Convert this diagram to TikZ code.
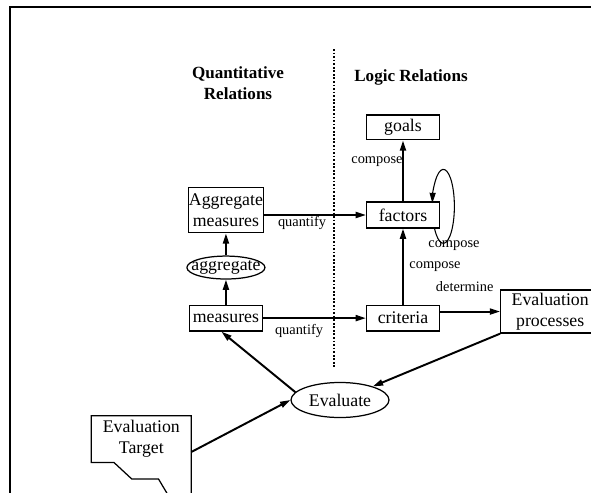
\documentclass[tikz,border=0pt]{standalone}
\usepackage{fontspec}
\setmainfont{Liberation Serif}
\usepackage{tikz}
\usetikzlibrary{
  shapes.geometric, arrows.meta, positioning
}
\newcommand{\boxfont}{\fontsize{10}{11.8}\selectfont}
\newcommand{\lblfont}{\fontsize{8.1}{9.7}\selectfont}
\newcommand{\hdfont}{\fontsize{9.6}{11.8}\selectfont\bfseries}
\tikzset{
  basebox/.style={
    rectangle, draw=black, line width=0.7pt, fill=white, align=center, font=\boxfont, inner sep=1pt
  },
  stepbox/.style={basebox, minimum width=41pt, minimum height=14.6pt},
  ovalbox/.style={ellipse, draw=black, line width=0.7pt, fill=white, align=center, font=\boxfont, inner ysep=0pt},
  headtext/.style={font=\hdfont, align=center, inner sep=0pt},
  labeltext/.style={font=\lblfont, inner sep=0pt},
  arrow/.style={-{Triangle[length=5.8pt, width=3.4pt]}, line width=1.1pt},
  thinarrow/.style={-{Triangle[length=5.8pt, width=3.4pt]}, line width=0.6pt}
}

\begin{document}
\begin{tikzpicture}[x=0.5625pt, y=-0.5625pt]
  \useasboundingbox (0,0) rectangle (591,493);
  \draw[line width=1.1pt] (9.7,500) -- (9.7,6.8) -- (600,6.8);

  \node[headtext] (quanthead) at (238,83.5) {Quantitative\\Relations};
  \node[headtext] (logichead) at (411,77) {Logic Relations};
  \draw[densely dotted, line width=1pt] (334,49) -- (334,368);

  \node[stepbox] (factors) at (403,215) {factors};
  \node[stepbox, minimum height=14pt, above=34.3pt of factors] (goals) {goals};
  \node[stepbox, below=42.7pt of factors] (criteria) {criteria};
  \node[stepbox, left=57.9pt of criteria] (measures) {measures};
  \node[ovalbox, minimum width=43.9pt, minimum height=12.9pt, inner xsep=-5pt,
        above=14pt of measures] (aggregate) {aggregate};
  \node[basebox, minimum width=42.2pt, minimum height=25.3pt, inner xsep=0.3pt,
        above=12.4pt of aggregate] (aggmeasures) {Aggregate\\measures};
  \node[basebox, minimum width=55.7pt, minimum height=24.2pt,
        right=33.75pt of criteria, yshift=3.7pt] (evalproc) {Evaluation\\processes};
  \node[ovalbox, minimum width=55.1pt, minimum height=19.7pt, inner xsep=2pt] (evaluate)
        at (340,400) {Evaluate};
  \node[font=\boxfont, align=center, minimum width=55.9pt, minimum height=25.9pt, inner sep=0pt]
        (target) at (141.3,439) {Evaluation\\Target};
  \draw[line width=0.7pt] ([yshift=-25pt]target.south east) -- (target.north east)
    -- (target.north west) -- (target.south west) -- ++(22.6,0) -- ++(18,16.7)
    -- ++(26.7,0) -- ++(12,20.2);

  \draw[arrow] (aggmeasures.east |- factors) -- (factors.west);
  \draw[arrow] (measures.east) -- (criteria.west);
  \draw[arrow] (measures) -- (aggregate);
  \draw[arrow] (aggregate) -- (aggmeasures);
  \draw[arrow] (criteria) -- (factors);
  \draw[arrow] (factors) -- (goals);
  \draw[arrow] (criteria.east |- evalproc) -- (evalproc.west);
  \draw[arrow] (evalproc.south west) -- (evaluate);
  \draw[arrow] (evaluate.170) -- ([xshift=-2.5pt]measures.south);
  \draw[arrow] ([yshift=-7.3pt]target.east) -- (evaluate.west);
  \draw[thinarrow] ([xshift=-3.1pt]factors.south east)
    arc[start angle=217, end angle=535, x radius=6.2pt, y radius=20.8pt];

  \node[labeltext] (quantup) at (302,223) {quantify};
  \node[labeltext] (quantlow) at (299,331) {quantify};
  \node[labeltext] (composegoal) at (377,162) {compose};
  \node[labeltext] (composeloop) at (454,246) {compose};
  \node[labeltext] (composecrit) at (435,267) {compose};
  \node[labeltext] (determine) at (464.7,287) {determine};
\end{tikzpicture}
\end{document}
